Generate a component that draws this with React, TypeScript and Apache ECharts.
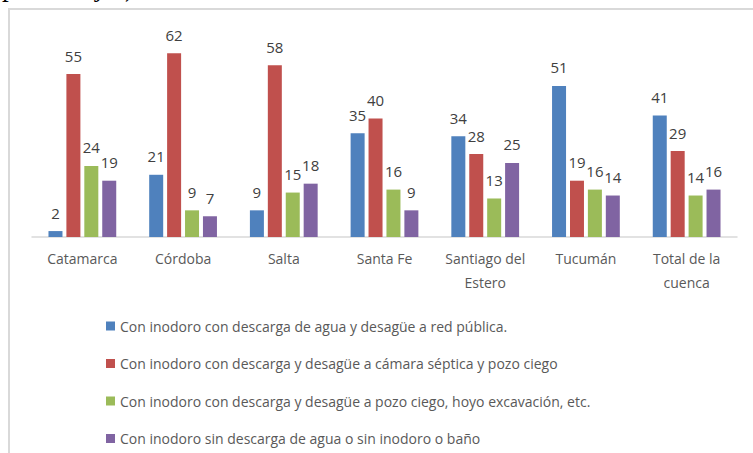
import React, { useEffect, useRef } from "react";
import * as echarts from "echarts";

const categories = [
  "Catamarca",
  "Córdoba",
  "Salta",
  "Santa Fe",
  "Santiago del\nEstero",
  "Tucumán",
  "Total de la\ncuenca",
];

const seriesNames = [
  "Con inodoro con descarga de agua y desagüe a red pública.",
  "Con inodoro con descarga y desagüe a cámara séptica y pozo ciego",
  "Con inodoro con descarga y desagüe a pozo ciego, hoyo excavación, etc.",
  "Con inodoro sin descarga de agua o sin inodoro o baño",
];

const redPublica = [2, 21, 9, 35, 34, 51, 41];
const camaraSeptica = [55, 62, 58, 40, 28, 19, 29];
const pozoCiego = [24, 9, 15, 16, 13, 16, 14];
const sinDescarga = [19, 7, 18, 9, 25, 14, 16];

const colors = ["#4F81BD", "#C0504D", "#9BBB59", "#8064A2"];

const FONT = "'Open Sans', 'Noto Sans', sans-serif";

export default function App() {
  const ref = useRef<HTMLDivElement>(null);

  useEffect(() => {
    if (!ref.current) return;
    const chart = echarts.init(ref.current, null, { renderer: "svg" });
    const data = [redPublica, camaraSeptica, pozoCiego, sinDescarga];
    chart.setOption({
      animation: false,
      backgroundColor: "#ffffff",
      grid: { left: 32, right: 16, top: 29.6, bottom: 216, containLabel: false },
      xAxis: {
        type: "category",
        data: categories,
        axisLine: { show: true, lineStyle: { color: "#d9d9d9", width: 1.5 } },
        axisTick: { show: false },
        axisLabel: {
          color: "#595959",
          fontFamily: FONT,
          fontSize: 14,
          lineHeight: 24,
          margin: 9,
          interval: 0,
        },
      },
      yAxis: {
        type: "value",
        min: 0,
        max: 70,
        show: false,
        splitLine: { show: false },
      },
      legend: {
        orient: "vertical",
        left: 101,
        top: 313,
        itemWidth: 9,
        itemHeight: 9,
        itemGap: 21.5,
        icon: "rect",
        textStyle: {
          color: "#595959",
          fontFamily: FONT,
          fontSize: 14,
          lineHeight: 16,
        },
        data: seriesNames,
      },
      graphic: [
        {
          type: "rect",
          shape: { x: 9, y: 9, width: 800, height: 500 },
          style: { fill: "none", stroke: "#d9d9d9", lineWidth: 2 },
          silent: true,
        },
        {
          type: "text",
          x: 2,
          y: 0,
          style: {
            text: "porcentajes)",
            font: "27px 'Liberation Serif', serif",
            fill: "#000000",
            textVerticalAlign: "bottom",
          },
          silent: true,
        },
      ],
      series: seriesNames.map((name, i) => ({
        name,
        type: "bar",
        data: data[i],
        barWidth: 14,
        barGap: "28%",
        itemStyle: { color: colors[i] },
        label: {
          show: true,
          position: "top",
          distance: 11,
          color: "#404040",
          fontFamily: FONT,
          fontSize: 15,
        },
      })),
    });
    return () => chart.dispose();
  }, []);

  return (
    <div
      ref={ref}
      style={{ position: "fixed", left: 0, top: 0, width: 753, height: 453 }}
    />
  );
}
